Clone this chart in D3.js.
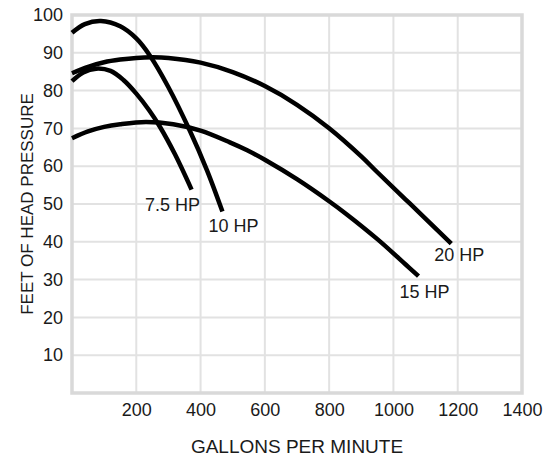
<!DOCTYPE html>
<html>
<head>
<meta charset="utf-8">
<script src="https://cdn.jsdelivr.net/npm/d3@7"></script>
<style>
  body { margin: 0; background: #fff; }
  text { font-family: "Liberation Sans", Arial, sans-serif; fill: #1a1a1a; }
</style>
</head>
<body>
<script>
// pump curves: gallons per minute vs feet of head
const hp75 = [[0,82.5],[35,84.8],[75,85.8],[120,85.2],[160,82.8],[200,79.2],[240,74.8],[273,70.5],[320,63.2],[372,53.8]];
const hp10 = [[0,95.3],[40,97.6],[90,98.4],[150,97],[200,93.8],[242,89.3],[300,80.9],[366,69.5],[420,58.9],[468,48]];
const hp15 = [[0,67.4],[50,69.2],[100,70.4],[150,71.1],[230,71.7],[315,71.1],[400,69.4],[491,66.3],[545,64.2],[600,61.7],[701,56.5],[802,50.6],[851,47.5],[950,40.7],[1038,34],[1078,30.9]];
const hp20 = [[0,84.6],[50,86.3],[100,87.5],[150,88.2],[200,88.65],[250,88.8],[300,88.65],[400,87.4],[500,84.9],[600,81.2],[700,76.25],[800,70.05],[900,62.6],[950,58.4],[1050,50.2],[1180,39.5]];

const seriesNames = ["7.5 HP", "10 HP", "15 HP", "20 HP"];
const xTicks = [200, 400, 600, 800, 1000, 1200, 1400];
const yTicks = [10, 20, 30, 40, 50, 60, 70, 80, 90, 100];

const w = 560;
const h = 458;

const xScale = d3.scaleLinear().domain([0, 1400]).range([72, 522]);
const yScale = d3.scaleLinear().domain([0, 100]).range([393, 15]);

const svg = d3.select('body')
  .append('svg')
  .attr('width', w)
  .attr('height', h);

// grid
svg.append('g')
  .selectAll('line')
  .data(xTicks)
  .enter()
  .append('line')
  .attr('x1', d => xScale(d))
  .attr('x2', d => xScale(d))
  .attr('y1', yScale(0))
  .attr('y2', yScale(100))
  .attr('stroke', '#e2e2e2')
  .attr('stroke-width', 2);

svg.append('g')
  .selectAll('line')
  .data(yTicks)
  .enter()
  .append('line')
  .attr('x1', xScale(0))
  .attr('x2', xScale(1400))
  .attr('y1', d => yScale(d))
  .attr('y2', d => yScale(d))
  .attr('stroke', '#e2e2e2')
  .attr('stroke-width', 2);

// frame
svg.append('rect')
  .attr('x', xScale(0))
  .attr('y', yScale(100))
  .attr('width', xScale(1400) - xScale(0))
  .attr('height', yScale(0) - yScale(100))
  .attr('fill', 'none')
  .attr('stroke', '#d9d9d9')
  .attr('stroke-width', 3.5);

// axes (labels only)
const xAxis = d3.axisBottom(xScale).tickValues(xTicks).tickSize(0).tickPadding(10).tickFormat(d3.format('d'));
const gx = svg.append('g')
  .attr('transform', `translate(0, ${yScale(0)})`)
  .call(xAxis);
gx.select('.domain').remove();
gx.selectAll('text').style('font-size', '18px').attr('fill', '#1a1a1a')
  .attr('font-family', '"Liberation Sans", Arial, sans-serif');

const yAxis = d3.axisLeft(yScale).tickValues(yTicks).tickSize(0).tickPadding(9);
const gy = svg.append('g')
  .attr('transform', `translate(${xScale(0)}, 0)`)
  .call(yAxis);
gy.select('.domain').remove();
gy.selectAll('text').style('font-size', '18px').attr('fill', '#1a1a1a')
  .attr('font-family', '"Liberation Sans", Arial, sans-serif');

// curves
const line = d3.line()
  .x(d => xScale(d[0]))
  .y(d => yScale(d[1]))
  .curve(d3.curveCatmullRom.alpha(0.5));

const curves = [hp75, hp10, hp15, hp20];
svg.append('g')
  .selectAll('path')
  .data(curves)
  .enter()
  .append('path')
  .attr('d', line)
  .attr('fill', 'none')
  .attr('stroke', '#000')
  .attr('stroke-width', 4.5);

// curve labels, placed off each curve's end point
const labelOffsets = [[-19, 21], [11, 20], [6, 22], [8, 17]];
svg.append('g')
  .selectAll('text')
  .data(curves)
  .enter()
  .append('text')
  .attr('x', (d, i) => xScale(d[d.length - 1][0]) + labelOffsets[i][0])
  .attr('y', (d, i) => yScale(d[d.length - 1][1]) + labelOffsets[i][1])
  .attr('text-anchor', 'middle')
  .style('font-size', '18px')
  .text((d, i) => seriesNames[i]);

// axis titles
svg.append('text')
  .attr('x', 297)
  .attr('y', 453)
  .attr('text-anchor', 'middle')
  .style('font-size', '19px')
  .text('GALLONS PER MINUTE');

svg.append('text')
  .attr('transform', 'translate(33, 204) rotate(-90)')
  .attr('text-anchor', 'middle')
  .style('font-size', '17px')
  .text('FEET OF HEAD PRESSURE');
</script>
</body>
</html>
